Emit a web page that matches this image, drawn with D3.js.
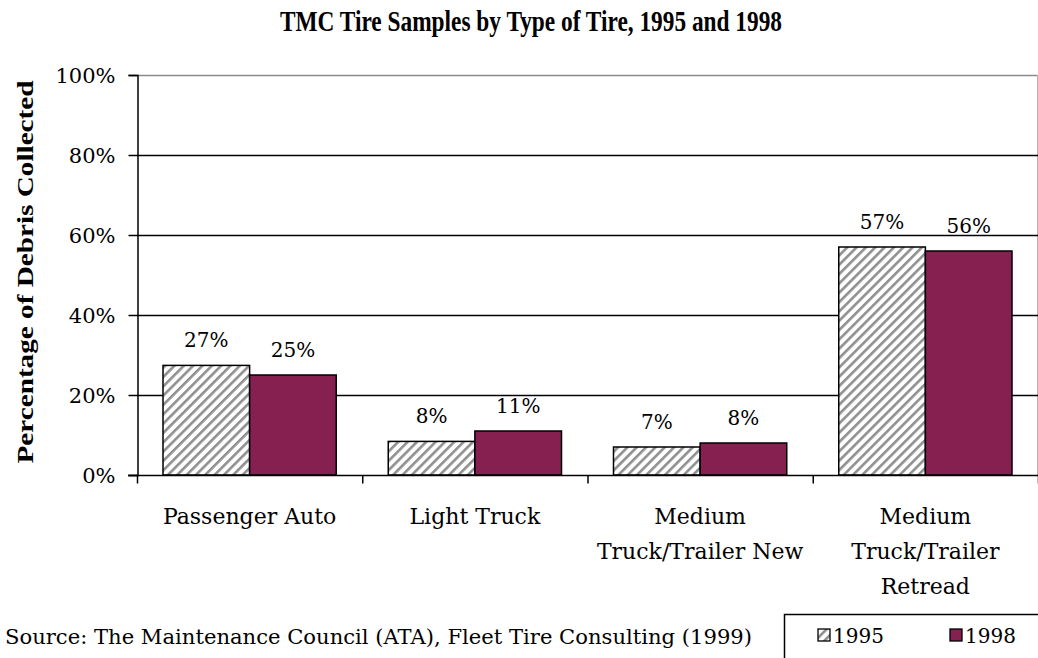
<!DOCTYPE html>
<html>
<head>
<meta charset="utf-8">
<script src="https://cdn.jsdelivr.net/npm/d3@7"></script>
<style>
  body { margin: 0; background: #fff; }
  text { font-family: "DejaVu Serif", "Liberation Serif", serif; fill: #000; }
</style>
</head>
<body>
<div id="chart"></div>
<script>
// data
var categories  = ["Passenger Auto", "Light Truck", "Medium Truck/Trailer New", "Medium Truck/Trailer Retread"];
var catLines    = [["Passenger Auto"], ["Light Truck"], ["Medium", "Truck/Trailer New"], ["Medium", "Truck/Trailer", "Retread"]];
var series      = ["1995", "1998"];
var values1995  = [27.4, 8.4, 7, 57];
var values1998  = [25, 11, 8, 56];
var yTicks      = [0, 20, 40, 60, 80, 100];

var chartWidth = 1038, chartHeight = 658;
var plotLeft = 137, plotRight = 1038, plotTop = 75, plotBottom = 475;
var barColor = "#862051";

var svg = d3.select("#chart").append("svg")
    .attr("width", chartWidth)
    .attr("height", chartHeight);

// hatch pattern for 1995
var defs = svg.append("defs");
defs.append("pattern")
    .attr("id", "hatch")
    .attr("patternUnits", "userSpaceOnUse")
    .attr("width", 6.6)
    .attr("height", 6.6)
    .attr("patternTransform", "rotate(45)")
  .call(function(p) {
    p.append("rect").attr("width", 6.6).attr("height", 6.6).attr("fill", "#fff");
    p.append("rect").attr("x", 0).attr("width", 2.6).attr("height", 6.6).attr("fill", "#8f8f8f");
  });

var data = categories.map(function(c, i) {
    return { cat: c, lines: catLines[i], vals: [values1995[i], values1998[i]] };
});

// scales
var x = d3.scaleBand().domain(categories).range([plotLeft, plotRight]).paddingInner(0).paddingOuter(0);
var xs = d3.scaleBand().domain(series).range([26, x.bandwidth() - 26]).padding(0);
var y = d3.scaleLinear().domain([0, 100]).range([plotBottom, plotTop]);

// plot frame (top and right, grey)
svg.append("line").attr("x1", plotLeft).attr("x2", plotRight - 0.5).attr("y1", plotTop + 0.5).attr("y2", plotTop + 0.5)
    .attr("stroke", "#8a8a8a").attr("stroke-width", 1.5);
svg.append("line").attr("x1", plotRight - 0.5).attr("x2", plotRight - 0.5).attr("y1", plotTop).attr("y2", plotBottom)
    .attr("stroke", "#b0b0b0").attr("stroke-width", 1);

// gridlines
svg.append("g")
  .selectAll("line")
  .data(yTicks.filter(function(t) { return t > 0 && t < 100; }))
  .enter().append("line")
    .attr("x1", plotLeft).attr("x2", plotRight)
    .attr("y1", function(d) { return Math.round(y(d)) + 0.5; })
    .attr("y2", function(d) { return Math.round(y(d)) + 0.5; })
    .attr("stroke", "#000").attr("stroke-width", 1.3);

// bars
var groups = svg.append("g").selectAll("g")
    .data(data)
    .enter().append("g")
    .attr("transform", function(d) { return "translate(" + x(d.cat) + ",0)"; });

groups.selectAll("rect")
    .data(function(d) { return d.vals.map(function(v, i) { return { s: series[i], v: v }; }); })
    .enter().append("rect")
    .attr("x", function(d) { return xs(d.s); })
    .attr("y", function(d) { return y(d.v); })
    .attr("width", xs.bandwidth())
    .attr("height", function(d) { return y(0) - y(d.v); })
    .attr("fill", function(d) { return d.s === "1995" ? "url(#hatch)" : barColor; })
    .attr("stroke", "#000")
    .attr("stroke-width", 1.5);

groups.selectAll("text.val")
    .data(function(d) { return d.vals.map(function(v, i) { return { s: series[i], v: v }; }); })
    .enter().append("text")
    .attr("class", "val")
    .attr("x", function(d) { return xs(d.s) + xs.bandwidth() / 2; })
    .attr("y", function(d) { return y(d.v) - 18; })
    .attr("text-anchor", "middle")
    .style("font-size", "20px")
    .text(function(d) { return Math.round(d.v) + "%"; });

// y axis
var yAxis = d3.axisLeft(y).tickValues(yTicks).tickSize(9).tickPadding(13)
    .tickFormat(function(d) { return d + "%"; });
svg.append("g")
    .attr("class", "y-axis")
    .attr("transform", "translate(" + (plotLeft + 0.5) + ",0)")
    .call(yAxis)
    .call(function(g) {
        g.select(".domain").attr("stroke", "#000").attr("stroke-width", 1.5);
        g.selectAll(".tick line").attr("stroke", "#000").attr("stroke-width", 1.5);
        g.selectAll(".tick text").style("font-size", "21px").style("font-family", "'DejaVu Serif', serif").attr("dy", "0.35em");
    });

// x axis
var xAxis = d3.axisBottom(d3.scaleLinear().domain([0, 4]).range([plotLeft, plotRight]))
    .tickValues([0, 1, 2, 3, 4]).tickSize(8).tickFormat("");
svg.append("g")
    .attr("class", "x-axis")
    .attr("transform", "translate(0," + (plotBottom + 0.5) + ")")
    .call(xAxis)
    .call(function(g) {
        g.select(".domain").remove();
        g.selectAll(".tick line").attr("stroke", "#000").attr("stroke-width", 1.5);
    });
svg.append("line").attr("x1", plotLeft - 9).attr("x2", plotRight).attr("y1", plotBottom + 0.5).attr("y2", plotBottom + 0.5)
    .attr("stroke", "#000").attr("stroke-width", 1.5);

// category labels
svg.append("g").selectAll("text")
    .data(data)
    .enter().append("text")
    .attr("x", function(d) { return x(d.cat) + x.bandwidth() / 2; })
    .attr("y", 524)
    .attr("text-anchor", "middle")
    .style("font-size", "22px")
    .each(function(d) {
        var t = d3.select(this);
        d.lines.forEach(function(line, i) {
            t.append("tspan")
                .attr("x", x(d.cat) + x.bandwidth() / 2)
                .attr("dy", i === 0 ? 0 : 35)
                .text(line);
        });
    });

// title
svg.append("text")
    .attr("x", 531)
    .attr("y", 31)
    .attr("text-anchor", "middle")
    .style("font-family", "'Liberation Serif', serif")
    .style("font-size", "29px")
    .style("font-weight", "bold")
    .attr("textLength", 502)
    .attr("lengthAdjust", "spacingAndGlyphs")
    .text("TMC Tire Samples by Type of Tire, 1995 and 1998");

// y title
svg.append("text")
    .attr("transform", "translate(33,272) rotate(-90)")
    .attr("text-anchor", "middle")
    .style("font-family", "'Liberation Serif', serif")
    .style("font-size", "24px")
    .style("font-weight", "bold")
    .attr("textLength", 383)
    .attr("lengthAdjust", "spacingAndGlyphs")
    .text("Percentage of Debris Collected");

// source
svg.append("text")
    .attr("x", 5)
    .attr("y", 644)
    .style("font-size", "20px")
    .attr("textLength", 747)
    .attr("lengthAdjust", "spacingAndGlyphs")
    .text("Source: The Maintenance Council (ATA), Fleet Tire Consulting (1999)");

// legend
var legend = svg.append("g").attr("transform", "translate(784,614)");
legend.append("rect")
    .attr("x", 0.5).attr("y", 0.5)
    .attr("width", 300).attr("height", 100)
    .attr("fill", "#fff").attr("stroke", "#000").attr("stroke-width", 1.5);
var legendX = [34, 166];
series.forEach(function(s, i) {
    legend.append("rect")
        .attr("x", legendX[i]).attr("y", 15)
        .attr("width", 12).attr("height", 12)
        .attr("fill", s === "1995" ? "url(#hatch)" : barColor)
        .attr("stroke", "#000").attr("stroke-width", 1.3);
    legend.append("text")
        .attr("x", legendX[i] + 15)
        .attr("y", 29)
        .style("font-size", "20px")
        .text(s);
});
</script>
</body>
</html>
